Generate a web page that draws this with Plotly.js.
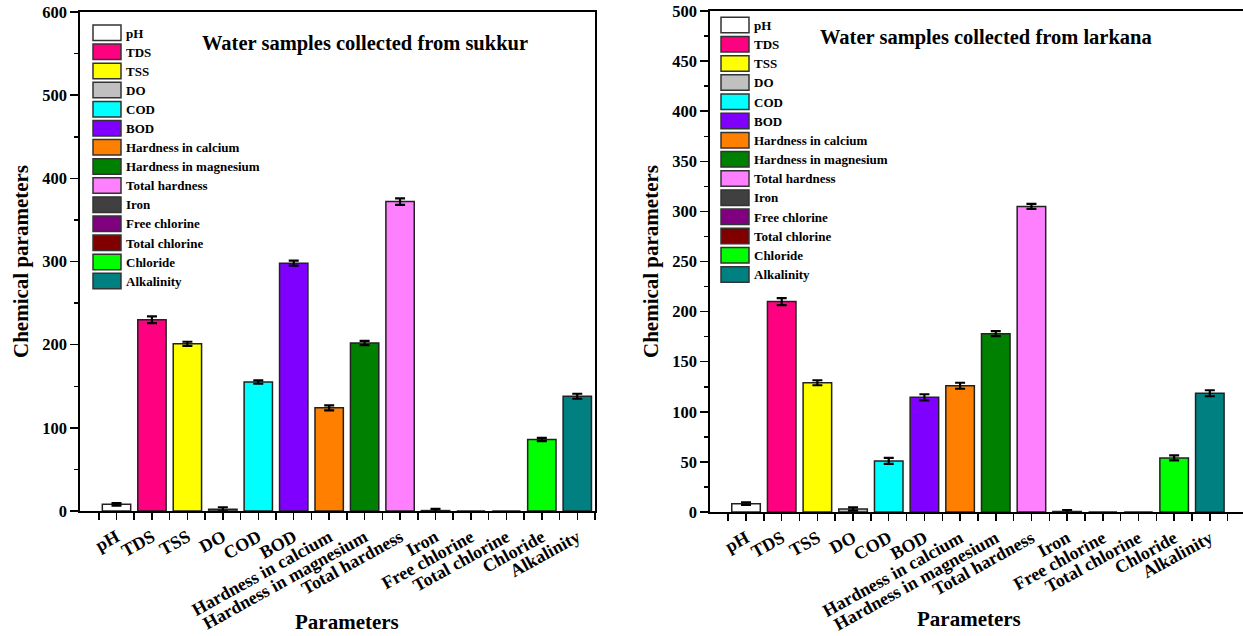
<!DOCTYPE html>
<html>
<head>
<meta charset="utf-8">
<script src="https://cdn.plot.ly/plotly-3.0.1.min.js"></script>
<style>html,body{margin:0;padding:0;background:#fff;}#chart{width:1243px;height:636px;}</style>
</head>
<body>
<div id="chart"></div>
<script>
// ---- data ----
const categories = ["pH","TDS","TSS","DO","COD","BOD","Hardness in calcium","Hardness in magnesium","Total hardness","Iron","Free chlorine","Total chlorine","Chloride","Alkalinity"];
const sukkurValues = [8, 230, 201, 2, 155, 298, 124, 202, 372, 0.5, 0, 0, 86, 138];
const sukkurErrors = [1.5, 4, 2.5, 2.5, 2, 3, 3, 2.5, 4, 2, 0, 0, 2, 3];
const larkanaValues = [8.3, 210, 129, 3, 51, 114.5, 126, 178, 305, 0.5, 0, 0, 54, 118.5];
const larkanaErrors = [1.3, 3.5, 2.5, 1.7, 3, 3, 3, 2.5, 2.5, 1.5, 0, 0, 2.5, 3];
const sukkurTicks = [0, 100, 200, 300, 400, 500, 600];
const larkanaTicks = [0, 50, 100, 150, 200, 250, 300, 350, 400, 450, 500];
const colors = ["#FFFFFF","#FF0080","#FFFF00","#C0C0C0","#00FFFF","#8000FF","#FF8000","#008000","#FF80FF","#404040","#800080","#800000","#00FF00","#008080"];
const titles = ["Water samples collected from sukkur", "Water samples collected from larkana"];
const xTitle = "Parameters";
const yTitle = "Chemical parameters";

// ---- layout helpers ----
const W = 1243, H = 636;
const fx = p => p / W;
const fy = p => 1 - p / H;
const FONT = "Liberation Serif, Times New Roman, serif";
const idx = categories.map((c, i) => i);

const traces = [];
function addBars(values, errors, xa, ya) {
  categories.forEach((c, i) => {
    traces.push({
      type: 'bar', name: c, x: [idx[i]], y: [values[i]],
      xaxis: xa, yaxis: ya, width: 0.8, showlegend: false,
      marker: {color: colors[i], line: {color: '#222', width: 1.5}},
      error_y: {type: 'data', array: [errors[i]], visible: errors[i] > 0, color: '#000', thickness: 2.2, width: 5},
      hovertemplate: c + ': %{y}<extra></extra>'
    });
  });
}
addBars(sukkurValues, sukkurErrors, 'x', 'y');
addBars(larkanaValues, larkanaErrors, 'x2', 'y2');

const xTickFont = {family: FONT, size: 18, weight: 'bold', color: '#000'};
const yTickFont = {family: FONT, size: 16.5, weight: 'bold', color: '#000'};
const titleFont = {family: FONT, size: 21, weight: 'bold', color: '#000'};

function xAxis(domain, range) {
  return {
    domain: domain, range: range,
    tickmode: 'array', tickvals: idx, ticktext: categories, tickangle: -29,
    ticks: 'outside', ticklen: 7, tickwidth: 1.5, tickcolor: '#000',
    minor: {tickvals: idx.map(v => v - 0.5).concat([idx.length - 0.5]), ticks: 'outside', ticklen: 7, tickwidth: 1.5, tickcolor: '#000'},
    showline: true, linecolor: '#000', linewidth: 1.8, mirror: true,
    showgrid: false, zeroline: false, tickfont: xTickFont
  };
}
function yAxis(domain, range, ticks, minorStep) {
  return {
    domain: domain, range: range,
    tickmode: 'array', tickvals: ticks,
    ticks: 'outside', ticklen: 8, tickwidth: 1.5, tickcolor: '#000',
    minor: {dtick: minorStep, tick0: 0, ticks: 'outside', ticklen: 4, tickwidth: 1.5, tickcolor: '#000'},
    showline: true, linecolor: '#000', linewidth: 1.8, mirror: true,
    showgrid: false, zeroline: false, tickfont: yTickFont,
    title: {text: yTitle, font: titleFont, standoff: 8}
  };
}

const xa1 = xAxis([fx(80), fx(595)], [-1.03, 13.5]); xa1.anchor = 'y';
const xa2 = xAxis([fx(710), 1], [-1.01, 13.93]); xa2.anchor = 'y2';
const ya1 = yAxis([fy(511), fy(12)], [0, 600], sukkurTicks, 50); ya1.anchor = 'x';
const ya2 = yAxis([fy(512), fy(11)], [0, 500], larkanaTicks, 25); ya2.anchor = 'x2';

// ---- custom legends (boxes + labels) ----
const shapes = [], annotations = [];
function addLegend(x0, y0, pitch) {
  categories.forEach((c, i) => {
    const top = y0 + i * pitch;
    shapes.push({type: 'rect', xref: 'paper', yref: 'paper',
      x0: fx(x0), x1: fx(x0 + 28), y0: fy(top + 15.5), y1: fy(top),
      fillcolor: colors[i], line: {color: '#333', width: 1.5}});
    annotations.push({xref: 'paper', yref: 'paper', x: fx(x0 + 31), y: fy(top + 8),
      xanchor: 'left', yanchor: 'middle', showarrow: false, text: c,
      font: {family: FONT, size: 13, weight: 'bold', color: '#000'}});
  });
}
addLegend(93, 25, 19.1);
addLegend(721, 17.3, 19.18);

const chartTitleFont = {family: FONT, size: 20.5, weight: 'bold', color: '#000'};
annotations.push({xref: 'paper', yref: 'paper', x: fx(365), y: fy(43), xanchor: 'center', yanchor: 'middle',
  showarrow: false, text: titles[0], font: chartTitleFont});
annotations.push({xref: 'paper', yref: 'paper', x: fx(986), y: fy(38), xanchor: 'center', yanchor: 'middle',
  showarrow: false, text: titles[1], font: chartTitleFont});
annotations.push({xref: 'paper', yref: 'paper', x: fx(347), y: fy(622), xanchor: 'center', yanchor: 'middle',
  showarrow: false, text: xTitle, font: titleFont});
annotations.push({xref: 'paper', yref: 'paper', x: fx(969), y: fy(619), xanchor: 'center', yanchor: 'middle',
  showarrow: false, text: xTitle, font: titleFont});

const layout = {
  width: W, height: H, margin: {l: 0, r: 0, t: 0, b: 0, autoexpand: false},
  paper_bgcolor: '#fff', plot_bgcolor: '#fff',
  barmode: 'overlay', showlegend: false,
  xaxis: xa1, yaxis: ya1, xaxis2: xa2, yaxis2: ya2,
  shapes: shapes, annotations: annotations,
  font: {family: FONT, color: '#000'}
};
Plotly.newPlot('chart', traces, layout, {displayModeBar: false, staticPlot: true});
</script>
</body>
</html>
